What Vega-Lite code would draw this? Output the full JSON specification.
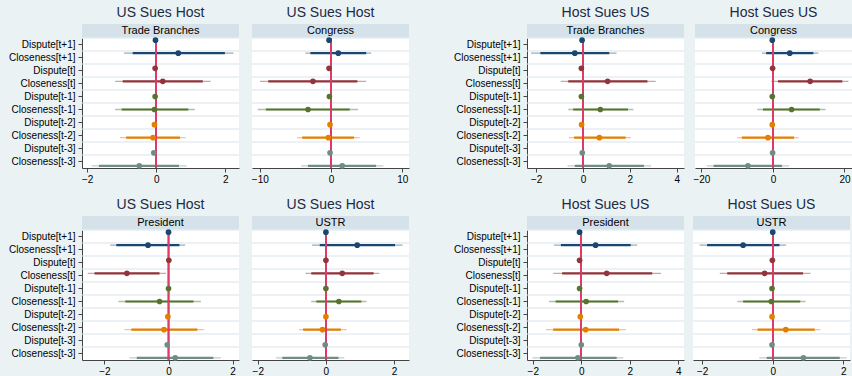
{
  "$schema": "https://vega.github.io/schema/vega-lite/v6.json",
  "background": "#eaf2f3",
  "padding": {"left": 8, "top": 6, "right": 0, "bottom": 0},
  "autosize": {"type": "pad"},
  "config": {
    "font": "Liberation Sans",
    "view": {"stroke": null},
    "axis": {"labelFont": "Liberation Sans", "labelFontSize": 10, "labelColor": "#000000", "tickColor": "#444444", "domainColor": "#444444", "tickSize": 4, "grid": false},
    "axisY": {"labelPadding": 3, "labelLimit": 200},
    "axisX": {"labelPadding": 2, "labelFlush": false, "labelOverlap": false},
    "title": {"font": "Liberation Sans", "fontSize": 14, "fontWeight": "normal", "color": "#1c2a44", "offset": 4},
    "text": {"font": "Liberation Sans", "fontSize": 11, "color": "#000000"}
  },
  "datasets": {
    "coef": [
      {"side": "US Sues Host", "branch": "Trade Branches", "term": "Dispute[t+1]", "lag": "t+1", "b": -0.02, "lo95": -0.05, "hi95": 0.01, "lo90": -0.04, "hi90": 0.0},
      {"side": "US Sues Host", "branch": "Trade Branches", "term": "Closeness[t+1]", "lag": "t+1", "b": 0.64, "lo95": -0.93, "hi95": 2.24, "lo90": -0.68, "hi90": 1.99},
      {"side": "US Sues Host", "branch": "Trade Branches", "term": "Dispute[t]", "lag": "t", "b": -0.03, "lo95": -0.06, "hi95": 0.0, "lo90": -0.05, "hi90": -0.01},
      {"side": "US Sues Host", "branch": "Trade Branches", "term": "Closeness[t]", "lag": "t", "b": 0.19, "lo95": -1.19, "hi95": 1.58, "lo90": -0.97, "hi90": 1.35},
      {"side": "US Sues Host", "branch": "Trade Branches", "term": "Dispute[t-1]", "lag": "t-1", "b": -0.03, "lo95": -0.06, "hi95": 0.0, "lo90": -0.05, "hi90": -0.01},
      {"side": "US Sues Host", "branch": "Trade Branches", "term": "Closeness[t-1]", "lag": "t-1", "b": -0.05, "lo95": -1.19, "hi95": 1.12, "lo90": -1.0, "hi90": 0.93},
      {"side": "US Sues Host", "branch": "Trade Branches", "term": "Dispute[t-2]", "lag": "t-2", "b": -0.05, "lo95": -0.08, "hi95": -0.02, "lo90": -0.07, "hi90": -0.03},
      {"side": "US Sues Host", "branch": "Trade Branches", "term": "Closeness[t-2]", "lag": "t-2", "b": -0.09, "lo95": -1.05, "hi95": 0.85, "lo90": -0.87, "hi90": 0.69},
      {"side": "US Sues Host", "branch": "Trade Branches", "term": "Dispute[t-3]", "lag": "t-3", "b": -0.07, "lo95": -0.1, "hi95": -0.04, "lo90": -0.09, "hi90": -0.05},
      {"side": "US Sues Host", "branch": "Trade Branches", "term": "Closeness[t-3]", "lag": "t-3", "b": -0.49, "lo95": -1.87, "hi95": 0.88, "lo90": -1.66, "hi90": 0.66},

      {"side": "US Sues Host", "branch": "Congress", "term": "Dispute[t+1]", "lag": "t+1", "b": -0.28, "lo95": -0.6, "hi95": 0.04, "lo90": -0.5, "hi90": -0.06},
      {"side": "US Sues Host", "branch": "Congress", "term": "Closeness[t+1]", "lag": "t+1", "b": 1.02, "lo95": -3.6, "hi95": 5.64, "lo90": -2.9, "hi90": 4.94},
      {"side": "US Sues Host", "branch": "Congress", "term": "Dispute[t]", "lag": "t", "b": -0.28, "lo95": -0.6, "hi95": 0.04, "lo90": -0.5, "hi90": -0.06},
      {"side": "US Sues Host", "branch": "Congress", "term": "Closeness[t]", "lag": "t", "b": -2.54, "lo95": -9.98, "hi95": 4.94, "lo90": -8.82, "hi90": 3.7},
      {"side": "US Sues Host", "branch": "Congress", "term": "Dispute[t-1]", "lag": "t-1", "b": -0.23, "lo95": -0.55, "hi95": 0.09, "lo90": -0.45, "hi90": -0.01},
      {"side": "US Sues Host", "branch": "Congress", "term": "Closeness[t-1]", "lag": "t-1", "b": -3.23, "lo95": -10.3, "hi95": 3.79, "lo90": -9.15, "hi90": 2.63},
      {"side": "US Sues Host", "branch": "Congress", "term": "Dispute[t-2]", "lag": "t-2", "b": -0.14, "lo95": -0.46, "hi95": 0.18, "lo90": -0.36, "hi90": 0.08},
      {"side": "US Sues Host", "branch": "Congress", "term": "Closeness[t-2]", "lag": "t-2", "b": -0.37, "lo95": -4.76, "hi95": 4.02, "lo90": -4.06, "hi90": 3.23},
      {"side": "US Sues Host", "branch": "Congress", "term": "Dispute[t-3]", "lag": "t-3", "b": -0.14, "lo95": -0.46, "hi95": 0.18, "lo90": -0.36, "hi90": 0.08},
      {"side": "US Sues Host", "branch": "Congress", "term": "Closeness[t-3]", "lag": "t-3", "b": 1.57, "lo95": -4.2, "hi95": 7.34, "lo90": -3.23, "hi90": 6.33},

      {"side": "Host Sues US", "branch": "Trade Branches", "term": "Dispute[t+1]", "lag": "t+1", "b": -0.04, "lo95": -0.08, "hi95": 0.0, "lo90": -0.07, "hi90": -0.01},
      {"side": "Host Sues US", "branch": "Trade Branches", "term": "Closeness[t+1]", "lag": "t+1", "b": -0.35, "lo95": -2.22, "hi95": 1.43, "lo90": -1.82, "hi90": 1.12},
      {"side": "Host Sues US", "branch": "Trade Branches", "term": "Dispute[t]", "lag": "t", "b": -0.07, "lo95": -0.11, "hi95": -0.03, "lo90": -0.1, "hi90": -0.04},
      {"side": "Host Sues US", "branch": "Trade Branches", "term": "Closeness[t]", "lag": "t", "b": 1.05, "lo95": -0.95, "hi95": 3.1, "lo90": -0.63, "hi90": 2.75},
      {"side": "Host Sues US", "branch": "Trade Branches", "term": "Dispute[t-1]", "lag": "t-1", "b": -0.07, "lo95": -0.11, "hi95": -0.03, "lo90": -0.1, "hi90": -0.04},
      {"side": "Host Sues US", "branch": "Trade Branches", "term": "Closeness[t-1]", "lag": "t-1", "b": 0.74, "lo95": -0.63, "hi95": 2.15, "lo90": -0.42, "hi90": 1.92},
      {"side": "Host Sues US", "branch": "Trade Branches", "term": "Dispute[t-2]", "lag": "t-2", "b": -0.06, "lo95": -0.1, "hi95": -0.02, "lo90": -0.09, "hi90": -0.03},
      {"side": "Host Sues US", "branch": "Trade Branches", "term": "Closeness[t-2]", "lag": "t-2", "b": 0.7, "lo95": -0.6, "hi95": 2.04, "lo90": -0.38, "hi90": 1.82},
      {"side": "Host Sues US", "branch": "Trade Branches", "term": "Dispute[t-3]", "lag": "t-3", "b": -0.03, "lo95": -0.07, "hi95": 0.01, "lo90": -0.06, "hi90": 0.0},
      {"side": "Host Sues US", "branch": "Trade Branches", "term": "Closeness[t-3]", "lag": "t-3", "b": 1.12, "lo95": -0.66, "hi95": 2.91, "lo90": -0.35, "hi90": 2.6},

      {"side": "Host Sues US", "branch": "Congress", "term": "Dispute[t+1]", "lag": "t+1", "b": -0.19, "lo95": -0.7, "hi95": 0.32, "lo90": -0.6, "hi90": 0.22},
      {"side": "Host Sues US", "branch": "Congress", "term": "Closeness[t+1]", "lag": "t+1", "b": 4.7, "lo95": -3.1, "hi95": 12.7, "lo90": -1.9, "hi90": 11.3},
      {"side": "Host Sues US", "branch": "Congress", "term": "Dispute[t]", "lag": "t", "b": -0.1, "lo95": -0.6, "hi95": 0.4, "lo90": -0.5, "hi90": 0.3},
      {"side": "Host Sues US", "branch": "Congress", "term": "Closeness[t]", "lag": "t", "b": 10.4, "lo95": -0.47, "hi95": 21.1, "lo90": 1.4, "hi90": 19.4},
      {"side": "Host Sues US", "branch": "Congress", "term": "Dispute[t-1]", "lag": "t-1", "b": -0.19, "lo95": -0.7, "hi95": 0.32, "lo90": -0.6, "hi90": 0.22},
      {"side": "Host Sues US", "branch": "Congress", "term": "Closeness[t-1]", "lag": "t-1", "b": 5.2, "lo95": -4.4, "hi95": 14.7, "lo90": -2.8, "hi90": 13.1},
      {"side": "Host Sues US", "branch": "Congress", "term": "Dispute[t-2]", "lag": "t-2", "b": -0.19, "lo95": -0.7, "hi95": 0.32, "lo90": -0.6, "hi90": 0.22},
      {"side": "Host Sues US", "branch": "Congress", "term": "Closeness[t-2]", "lag": "t-2", "b": -1.4, "lo95": -10.0, "hi95": 7.2, "lo90": -8.7, "hi90": 5.9},
      {"side": "Host Sues US", "branch": "Congress", "term": "Dispute[t-3]", "lag": "t-3", "b": -0.1, "lo95": -0.6, "hi95": 0.4, "lo90": -0.5, "hi90": 0.3},
      {"side": "Host Sues US", "branch": "Congress", "term": "Closeness[t-3]", "lag": "t-3", "b": -7.0, "lo95": -18.5, "hi95": 4.5, "lo90": -16.6, "hi90": 2.5},

      {"side": "US Sues Host", "branch": "President", "term": "Dispute[t+1]", "lag": "t+1", "b": 0.0, "lo95": -0.03, "hi95": 0.03, "lo90": -0.02, "hi90": 0.02},
      {"side": "US Sues Host", "branch": "President", "term": "Closeness[t+1]", "lag": "t+1", "b": -0.64, "lo95": -1.82, "hi95": 0.52, "lo90": -1.63, "hi90": 0.34},
      {"side": "US Sues Host", "branch": "President", "term": "Dispute[t]", "lag": "t", "b": 0.01, "lo95": -0.02, "hi95": 0.04, "lo90": -0.01, "hi90": 0.03},
      {"side": "US Sues Host", "branch": "President", "term": "Closeness[t]", "lag": "t", "b": -1.3, "lo95": -2.52, "hi95": -0.08, "lo90": -2.31, "hi90": -0.28},
      {"side": "US Sues Host", "branch": "President", "term": "Dispute[t-1]", "lag": "t-1", "b": 0.0, "lo95": -0.03, "hi95": 0.03, "lo90": -0.02, "hi90": 0.02},
      {"side": "US Sues Host", "branch": "President", "term": "Closeness[t-1]", "lag": "t-1", "b": -0.28, "lo95": -1.56, "hi95": 1.01, "lo90": -1.35, "hi90": 0.78},
      {"side": "US Sues Host", "branch": "President", "term": "Dispute[t-2]", "lag": "t-2", "b": -0.02, "lo95": -0.05, "hi95": 0.01, "lo90": -0.04, "hi90": 0.0},
      {"side": "US Sues Host", "branch": "President", "term": "Closeness[t-2]", "lag": "t-2", "b": -0.14, "lo95": -1.38, "hi95": 1.11, "lo90": -1.16, "hi90": 0.9},
      {"side": "US Sues Host", "branch": "President", "term": "Dispute[t-3]", "lag": "t-3", "b": -0.04, "lo95": -0.07, "hi95": -0.01, "lo90": -0.06, "hi90": -0.02},
      {"side": "US Sues Host", "branch": "President", "term": "Closeness[t-3]", "lag": "t-3", "b": 0.21, "lo95": -1.22, "hi95": 1.63, "lo90": -0.99, "hi90": 1.4},

      {"side": "US Sues Host", "branch": "USTR", "term": "Dispute[t+1]", "lag": "t+1", "b": 0.0, "lo95": -0.02, "hi95": 0.02, "lo90": -0.01, "hi90": 0.01},
      {"side": "US Sues Host", "branch": "USTR", "term": "Closeness[t+1]", "lag": "t+1", "b": 0.92, "lo95": -0.41, "hi95": 2.25, "lo90": -0.18, "hi90": 2.03},
      {"side": "US Sues Host", "branch": "USTR", "term": "Dispute[t]", "lag": "t", "b": 0.0, "lo95": -0.02, "hi95": 0.02, "lo90": -0.01, "hi90": 0.01},
      {"side": "US Sues Host", "branch": "USTR", "term": "Closeness[t]", "lag": "t", "b": 0.48, "lo95": -0.6, "hi95": 1.57, "lo90": -0.43, "hi90": 1.4},
      {"side": "US Sues Host", "branch": "USTR", "term": "Dispute[t-1]", "lag": "t-1", "b": 0.0, "lo95": -0.02, "hi95": 0.02, "lo90": -0.01, "hi90": 0.01},
      {"side": "US Sues Host", "branch": "USTR", "term": "Closeness[t-1]", "lag": "t-1", "b": 0.38, "lo95": -0.43, "hi95": 1.19, "lo90": -0.28, "hi90": 1.04},
      {"side": "US Sues Host", "branch": "USTR", "term": "Dispute[t-2]", "lag": "t-2", "b": 0.0, "lo95": -0.02, "hi95": 0.02, "lo90": -0.01, "hi90": 0.01},
      {"side": "US Sues Host", "branch": "USTR", "term": "Closeness[t-2]", "lag": "t-2", "b": -0.1, "lo95": -0.79, "hi95": 0.61, "lo90": -0.67, "hi90": 0.44},
      {"side": "US Sues Host", "branch": "USTR", "term": "Dispute[t-3]", "lag": "t-3", "b": -0.02, "lo95": -0.04, "hi95": 0.0, "lo90": -0.03, "hi90": -0.01},
      {"side": "US Sues Host", "branch": "USTR", "term": "Closeness[t-3]", "lag": "t-3", "b": -0.47, "lo95": -1.47, "hi95": 0.54, "lo90": -1.28, "hi90": 0.37},

      {"side": "Host Sues US", "branch": "President", "term": "Dispute[t+1]", "lag": "t+1", "b": -0.07, "lo95": -0.11, "hi95": -0.03, "lo90": -0.1, "hi90": -0.04},
      {"side": "Host Sues US", "branch": "President", "term": "Closeness[t+1]", "lag": "t+1", "b": 0.59, "lo95": -1.13, "hi95": 2.31, "lo90": -0.84, "hi90": 2.04},
      {"side": "Host Sues US", "branch": "President", "term": "Dispute[t]", "lag": "t", "b": -0.07, "lo95": -0.11, "hi95": -0.03, "lo90": -0.1, "hi90": -0.04},
      {"side": "Host Sues US", "branch": "President", "term": "Closeness[t]", "lag": "t", "b": 1.05, "lo95": -1.16, "hi95": 3.29, "lo90": -0.79, "hi90": 2.93},
      {"side": "Host Sues US", "branch": "President", "term": "Dispute[t-1]", "lag": "t-1", "b": -0.07, "lo95": -0.11, "hi95": -0.03, "lo90": -0.1, "hi90": -0.04},
      {"side": "Host Sues US", "branch": "President", "term": "Closeness[t-1]", "lag": "t-1", "b": 0.2, "lo95": -1.33, "hi95": 1.77, "lo90": -1.06, "hi90": 1.52},
      {"side": "Host Sues US", "branch": "President", "term": "Dispute[t-2]", "lag": "t-2", "b": -0.04, "lo95": -0.08, "hi95": 0.0, "lo90": -0.07, "hi90": -0.01},
      {"side": "Host Sues US", "branch": "President", "term": "Closeness[t-2]", "lag": "t-2", "b": 0.18, "lo95": -1.46, "hi95": 1.84, "lo90": -1.16, "hi90": 1.56},
      {"side": "Host Sues US", "branch": "President", "term": "Dispute[t-3]", "lag": "t-3", "b": 0.0, "lo95": -0.04, "hi95": 0.04, "lo90": -0.03, "hi90": 0.03},
      {"side": "Host Sues US", "branch": "President", "term": "Closeness[t-3]", "lag": "t-3", "b": -0.14, "lo95": -2.01, "hi95": 1.74, "lo90": -1.7, "hi90": 1.46},

      {"side": "Host Sues US", "branch": "USTR", "term": "Dispute[t+1]", "lag": "t+1", "b": 0.0, "lo95": -0.02, "hi95": 0.02, "lo90": -0.01, "hi90": 0.01},
      {"side": "Host Sues US", "branch": "USTR", "term": "Closeness[t+1]", "lag": "t+1", "b": -0.84, "lo95": -2.07, "hi95": 0.38, "lo90": -1.86, "hi90": 0.19},
      {"side": "Host Sues US", "branch": "USTR", "term": "Dispute[t]", "lag": "t", "b": -0.01, "lo95": -0.03, "hi95": 0.01, "lo90": -0.02, "hi90": 0.0},
      {"side": "Host Sues US", "branch": "USTR", "term": "Closeness[t]", "lag": "t", "b": -0.23, "lo95": -1.5, "hi95": 1.07, "lo90": -1.29, "hi90": 0.86},
      {"side": "Host Sues US", "branch": "USTR", "term": "Dispute[t-1]", "lag": "t-1", "b": -0.02, "lo95": -0.04, "hi95": 0.0, "lo90": -0.03, "hi90": -0.01},
      {"side": "Host Sues US", "branch": "USTR", "term": "Closeness[t-1]", "lag": "t-1", "b": -0.04, "lo95": -1.0, "hi95": 0.93, "lo90": -0.84, "hi90": 0.78},
      {"side": "Host Sues US", "branch": "USTR", "term": "Dispute[t-2]", "lag": "t-2", "b": -0.02, "lo95": -0.04, "hi95": 0.0, "lo90": -0.03, "hi90": -0.01},
      {"side": "Host Sues US", "branch": "USTR", "term": "Closeness[t-2]", "lag": "t-2", "b": 0.37, "lo95": -0.59, "hi95": 1.35, "lo90": -0.43, "hi90": 1.19},
      {"side": "Host Sues US", "branch": "USTR", "term": "Dispute[t-3]", "lag": "t-3", "b": -0.02, "lo95": -0.04, "hi95": 0.0, "lo90": -0.03, "hi90": -0.01},
      {"side": "Host Sues US", "branch": "USTR", "term": "Closeness[t-3]", "lag": "t-3", "b": 0.87, "lo95": -0.38, "hi95": 2.1, "lo90": -0.17, "hi90": 1.9}
    ]
  },
  "spacing": 14,
  "vconcat": [
    {
      "spacing": 43,
      "hconcat": [
        {
          "spacing": 11,
          "hconcat": [
            {
              "spacing": 0,
              "resolve": {"scale": {"yOffset": "independent"}},
              "vconcat": [
                {"width": 157, "height": 13, "view": {"fill": "#d6e2e9", "stroke": null}, "title": "US Sues Host", "data": {"values": [{"label": "Trade Branches"}]}, "mark": {"type": "text"}, "encoding": {"text": {"field": "label", "type": "nominal"}}},
                {
                  "width": 157, "height": 130, "view": {"fill": "#ffffff", "stroke": null},
                  "data": {"name": "coef"},
                  "transform": [{"filter": {"and": [{"field": "side", "equal": "US Sues Host"}, {"field": "branch", "equal": "Trade Branches"}]}}],
                  "layer": [
                    {"mark": {"type": "rule", "color": "#dae3e9", "strokeWidth": 1}, "encoding": {"y": {"field": "term", "type": "nominal", "bandPosition": 0, "sort": ["Dispute[t+1]", "Closeness[t+1]", "Dispute[t]", "Closeness[t]", "Dispute[t-1]", "Closeness[t-1]", "Dispute[t-2]", "Closeness[t-2]", "Dispute[t-3]", "Closeness[t-3]"], "scale": {"paddingInner": 0, "paddingOuter": 0}, "axis": {"title": null, "domain": true}}}},
                    {"mark": {"type": "rule", "strokeWidth": 1.3, "opacity": 0.45}, "encoding": {"y": {"field": "term", "type": "nominal", "title": null, "sort": ["Dispute[t+1]", "Closeness[t+1]", "Dispute[t]", "Closeness[t]", "Dispute[t-1]", "Closeness[t-1]", "Dispute[t-2]", "Closeness[t-2]", "Dispute[t-3]", "Closeness[t-3]"]}, "yOffset": {"field": "lag", "type": "nominal", "sort": ["t+1", "t", "t-1", "t-2", "t-3"], "scale": {"type": "point", "padding": 1}}, "x": {"field": "lo95", "type": "quantitative", "scale": {"domain": [-2.15, 2.4], "nice": false, "zero": false}, "axis": {"title": null, "values": [-2, -1, 0, 1, 2]}}, "x2": {"field": "hi95"}, "color": {"field": "lag", "type": "nominal", "scale": {"domain": ["t+1", "t", "t-1", "t-2", "t-3"], "range": ["#1a476f", "#90353b", "#55752f", "#e37e00", "#6e8e84"]}, "legend": null}}},
                    {"mark": {"type": "rule", "strokeWidth": 2.2}, "encoding": {"y": {"field": "term", "type": "nominal", "title": null, "sort": ["Dispute[t+1]", "Closeness[t+1]", "Dispute[t]", "Closeness[t]", "Dispute[t-1]", "Closeness[t-1]", "Dispute[t-2]", "Closeness[t-2]", "Dispute[t-3]", "Closeness[t-3]"]}, "yOffset": {"field": "lag", "type": "nominal", "sort": ["t+1", "t", "t-1", "t-2", "t-3"]}, "x": {"field": "lo90", "type": "quantitative", "title": null}, "x2": {"field": "hi90"}, "color": {"field": "lag", "type": "nominal", "legend": null}}},
                    {"mark": {"type": "rule", "color": "#de3b68", "strokeWidth": 1.2}, "encoding": {"x": {"datum": 0}}},
                    {"mark": {"type": "circle", "size": 32, "opacity": 1}, "encoding": {"y": {"field": "term", "type": "nominal", "title": null, "sort": ["Dispute[t+1]", "Closeness[t+1]", "Dispute[t]", "Closeness[t]", "Dispute[t-1]", "Closeness[t-1]", "Dispute[t-2]", "Closeness[t-2]", "Dispute[t-3]", "Closeness[t-3]"]}, "yOffset": {"field": "lag", "type": "nominal", "sort": ["t+1", "t", "t-1", "t-2", "t-3"]}, "x": {"field": "b", "type": "quantitative", "title": null}, "color": {"field": "lag", "type": "nominal", "legend": null}}}
                  ]
                }
              ]
            },
            {
              "spacing": 0,
              "resolve": {"scale": {"yOffset": "independent"}},
              "vconcat": [
                {"width": 157, "height": 13, "view": {"fill": "#d6e2e9", "stroke": null}, "title": "US Sues Host", "data": {"values": [{"label": "Congress"}]}, "mark": {"type": "text"}, "encoding": {"text": {"field": "label", "type": "nominal"}}},
                {
                  "width": 157, "height": 130, "view": {"fill": "#ffffff", "stroke": null},
                  "data": {"name": "coef"},
                  "transform": [{"filter": {"and": [{"field": "side", "equal": "US Sues Host"}, {"field": "branch", "equal": "Congress"}]}}],
                  "layer": [
                    {"mark": {"type": "rule", "color": "#dae3e9", "strokeWidth": 1}, "encoding": {"y": {"field": "term", "type": "nominal", "bandPosition": 0, "sort": ["Dispute[t+1]", "Closeness[t+1]", "Dispute[t]", "Closeness[t]", "Dispute[t-1]", "Closeness[t-1]", "Dispute[t-2]", "Closeness[t-2]", "Dispute[t-3]", "Closeness[t-3]"], "scale": {"paddingInner": 0, "paddingOuter": 0}, "axis": null}}},
                    {"mark": {"type": "rule", "strokeWidth": 1.3, "opacity": 0.45}, "encoding": {"y": {"field": "term", "type": "nominal", "title": null, "sort": ["Dispute[t+1]", "Closeness[t+1]", "Dispute[t]", "Closeness[t]", "Dispute[t-1]", "Closeness[t-1]", "Dispute[t-2]", "Closeness[t-2]", "Dispute[t-3]", "Closeness[t-3]"]}, "yOffset": {"field": "lag", "type": "nominal", "sort": ["t+1", "t", "t-1", "t-2", "t-3"], "scale": {"type": "point", "padding": 1}}, "x": {"field": "lo95", "type": "quantitative", "scale": {"domain": [-11.1, 10.95], "nice": false, "zero": false}, "axis": {"title": null, "values": [-10, -5, 0, 5, 10]}}, "x2": {"field": "hi95"}, "color": {"field": "lag", "type": "nominal", "scale": {"domain": ["t+1", "t", "t-1", "t-2", "t-3"], "range": ["#1a476f", "#90353b", "#55752f", "#e37e00", "#6e8e84"]}, "legend": null}}},
                    {"mark": {"type": "rule", "strokeWidth": 2.2}, "encoding": {"y": {"field": "term", "type": "nominal", "title": null, "sort": ["Dispute[t+1]", "Closeness[t+1]", "Dispute[t]", "Closeness[t]", "Dispute[t-1]", "Closeness[t-1]", "Dispute[t-2]", "Closeness[t-2]", "Dispute[t-3]", "Closeness[t-3]"]}, "yOffset": {"field": "lag", "type": "nominal", "sort": ["t+1", "t", "t-1", "t-2", "t-3"]}, "x": {"field": "lo90", "type": "quantitative", "title": null}, "x2": {"field": "hi90"}, "color": {"field": "lag", "type": "nominal", "legend": null}}},
                    {"mark": {"type": "rule", "color": "#de3b68", "strokeWidth": 1.2}, "encoding": {"x": {"datum": 0}}},
                    {"mark": {"type": "circle", "size": 32, "opacity": 1}, "encoding": {"y": {"field": "term", "type": "nominal", "title": null, "sort": ["Dispute[t+1]", "Closeness[t+1]", "Dispute[t]", "Closeness[t]", "Dispute[t-1]", "Closeness[t-1]", "Dispute[t-2]", "Closeness[t-2]", "Dispute[t-3]", "Closeness[t-3]"]}, "yOffset": {"field": "lag", "type": "nominal", "sort": ["t+1", "t", "t-1", "t-2", "t-3"]}, "x": {"field": "b", "type": "quantitative", "title": null}, "color": {"field": "lag", "type": "nominal", "legend": null}}}
                  ]
                }
              ]
            }
          ]
        },
        {
          "spacing": 7,
          "hconcat": [
            {
              "spacing": 0,
              "resolve": {"scale": {"yOffset": "independent"}},
              "vconcat": [
                {"width": 157, "height": 13, "view": {"fill": "#d6e2e9", "stroke": null}, "title": "Host Sues US", "data": {"values": [{"label": "Trade Branches"}]}, "mark": {"type": "text"}, "encoding": {"text": {"field": "label", "type": "nominal"}}},
                {
                  "width": 157, "height": 130, "view": {"fill": "#ffffff", "stroke": null},
                  "data": {"name": "coef"},
                  "transform": [{"filter": {"and": [{"field": "side", "equal": "Host Sues US"}, {"field": "branch", "equal": "Trade Branches"}]}}],
                  "layer": [
                    {"mark": {"type": "rule", "color": "#dae3e9", "strokeWidth": 1}, "encoding": {"y": {"field": "term", "type": "nominal", "bandPosition": 0, "sort": ["Dispute[t+1]", "Closeness[t+1]", "Dispute[t]", "Closeness[t]", "Dispute[t-1]", "Closeness[t-1]", "Dispute[t-2]", "Closeness[t-2]", "Dispute[t-3]", "Closeness[t-3]"], "scale": {"paddingInner": 0, "paddingOuter": 0}, "axis": {"title": null, "domain": true}}}},
                    {"mark": {"type": "rule", "strokeWidth": 1.3, "opacity": 0.45}, "encoding": {"y": {"field": "term", "type": "nominal", "title": null, "sort": ["Dispute[t+1]", "Closeness[t+1]", "Dispute[t]", "Closeness[t]", "Dispute[t-1]", "Closeness[t-1]", "Dispute[t-2]", "Closeness[t-2]", "Dispute[t-3]", "Closeness[t-3]"]}, "yOffset": {"field": "lag", "type": "nominal", "sort": ["t+1", "t", "t-1", "t-2", "t-3"], "scale": {"type": "point", "padding": 1}}, "x": {"field": "lo95", "type": "quantitative", "scale": {"domain": [-2.39, 4.31], "nice": false, "zero": false}, "axis": {"title": null, "values": [-2, 0, 2, 4]}}, "x2": {"field": "hi95"}, "color": {"field": "lag", "type": "nominal", "scale": {"domain": ["t+1", "t", "t-1", "t-2", "t-3"], "range": ["#1a476f", "#90353b", "#55752f", "#e37e00", "#6e8e84"]}, "legend": null}}},
                    {"mark": {"type": "rule", "strokeWidth": 2.2}, "encoding": {"y": {"field": "term", "type": "nominal", "title": null, "sort": ["Dispute[t+1]", "Closeness[t+1]", "Dispute[t]", "Closeness[t]", "Dispute[t-1]", "Closeness[t-1]", "Dispute[t-2]", "Closeness[t-2]", "Dispute[t-3]", "Closeness[t-3]"]}, "yOffset": {"field": "lag", "type": "nominal", "sort": ["t+1", "t", "t-1", "t-2", "t-3"]}, "x": {"field": "lo90", "type": "quantitative", "title": null}, "x2": {"field": "hi90"}, "color": {"field": "lag", "type": "nominal", "legend": null}}},
                    {"mark": {"type": "rule", "color": "#de3b68", "strokeWidth": 1.2}, "encoding": {"x": {"datum": 0}}},
                    {"mark": {"type": "circle", "size": 32, "opacity": 1}, "encoding": {"y": {"field": "term", "type": "nominal", "title": null, "sort": ["Dispute[t+1]", "Closeness[t+1]", "Dispute[t]", "Closeness[t]", "Dispute[t-1]", "Closeness[t-1]", "Dispute[t-2]", "Closeness[t-2]", "Dispute[t-3]", "Closeness[t-3]"]}, "yOffset": {"field": "lag", "type": "nominal", "sort": ["t+1", "t", "t-1", "t-2", "t-3"]}, "x": {"field": "b", "type": "quantitative", "title": null}, "color": {"field": "lag", "type": "nominal", "legend": null}}}
                  ]
                }
              ]
            },
            {
              "spacing": 0,
              "resolve": {"scale": {"yOffset": "independent"}},
              "vconcat": [
                {"width": 157, "height": 13, "view": {"fill": "#d6e2e9", "stroke": null}, "title": "Host Sues US", "data": {"values": [{"label": "Congress"}]}, "mark": {"type": "text"}, "encoding": {"text": {"field": "label", "type": "nominal"}}},
                {
                  "width": 157, "height": 130, "view": {"fill": "#ffffff", "stroke": null},
                  "data": {"name": "coef"},
                  "transform": [{"filter": {"and": [{"field": "side", "equal": "Host Sues US"}, {"field": "branch", "equal": "Congress"}]}}],
                  "layer": [
                    {"mark": {"type": "rule", "color": "#dae3e9", "strokeWidth": 1}, "encoding": {"y": {"field": "term", "type": "nominal", "bandPosition": 0, "sort": ["Dispute[t+1]", "Closeness[t+1]", "Dispute[t]", "Closeness[t]", "Dispute[t-1]", "Closeness[t-1]", "Dispute[t-2]", "Closeness[t-2]", "Dispute[t-3]", "Closeness[t-3]"], "scale": {"paddingInner": 0, "paddingOuter": 0}, "axis": null}}},
                    {"mark": {"type": "rule", "strokeWidth": 1.3, "opacity": 0.45}, "encoding": {"y": {"field": "term", "type": "nominal", "title": null, "sort": ["Dispute[t+1]", "Closeness[t+1]", "Dispute[t]", "Closeness[t]", "Dispute[t-1]", "Closeness[t-1]", "Dispute[t-2]", "Closeness[t-2]", "Dispute[t-3]", "Closeness[t-3]"]}, "yOffset": {"field": "lag", "type": "nominal", "sort": ["t+1", "t", "t-1", "t-2", "t-3"], "scale": {"type": "point", "padding": 1}}, "x": {"field": "lo95", "type": "quantitative", "scale": {"domain": [-21.8, 22.1], "nice": false, "zero": false}, "axis": {"title": null, "values": [-20, -10, 0, 10, 20]}}, "x2": {"field": "hi95"}, "color": {"field": "lag", "type": "nominal", "scale": {"domain": ["t+1", "t", "t-1", "t-2", "t-3"], "range": ["#1a476f", "#90353b", "#55752f", "#e37e00", "#6e8e84"]}, "legend": null}}},
                    {"mark": {"type": "rule", "strokeWidth": 2.2}, "encoding": {"y": {"field": "term", "type": "nominal", "title": null, "sort": ["Dispute[t+1]", "Closeness[t+1]", "Dispute[t]", "Closeness[t]", "Dispute[t-1]", "Closeness[t-1]", "Dispute[t-2]", "Closeness[t-2]", "Dispute[t-3]", "Closeness[t-3]"]}, "yOffset": {"field": "lag", "type": "nominal", "sort": ["t+1", "t", "t-1", "t-2", "t-3"]}, "x": {"field": "lo90", "type": "quantitative", "title": null}, "x2": {"field": "hi90"}, "color": {"field": "lag", "type": "nominal", "legend": null}}},
                    {"mark": {"type": "rule", "color": "#de3b68", "strokeWidth": 1.2}, "encoding": {"x": {"datum": 0}}},
                    {"mark": {"type": "circle", "size": 32, "opacity": 1}, "encoding": {"y": {"field": "term", "type": "nominal", "title": null, "sort": ["Dispute[t+1]", "Closeness[t+1]", "Dispute[t]", "Closeness[t]", "Dispute[t-1]", "Closeness[t-1]", "Dispute[t-2]", "Closeness[t-2]", "Dispute[t-3]", "Closeness[t-3]"]}, "yOffset": {"field": "lag", "type": "nominal", "sort": ["t+1", "t", "t-1", "t-2", "t-3"]}, "x": {"field": "b", "type": "quantitative", "title": null}, "color": {"field": "lag", "type": "nominal", "legend": null}}}
                  ]
                }
              ]
            }
          ]
        }
      ]
    },
    {
      "spacing": 43,
      "hconcat": [
        {
          "spacing": 11,
          "hconcat": [
            {
              "spacing": 0,
              "resolve": {"scale": {"yOffset": "independent"}},
              "vconcat": [
                {"width": 157, "height": 13, "view": {"fill": "#d6e2e9", "stroke": null}, "title": "US Sues Host", "data": {"values": [{"label": "President"}]}, "mark": {"type": "text"}, "encoding": {"text": {"field": "label", "type": "nominal"}}},
                {
                  "width": 157, "height": 130, "view": {"fill": "#ffffff", "stroke": null},
                  "data": {"name": "coef"},
                  "transform": [{"filter": {"and": [{"field": "side", "equal": "US Sues Host"}, {"field": "branch", "equal": "President"}]}}],
                  "layer": [
                    {"mark": {"type": "rule", "color": "#dae3e9", "strokeWidth": 1}, "encoding": {"y": {"field": "term", "type": "nominal", "bandPosition": 0, "sort": ["Dispute[t+1]", "Closeness[t+1]", "Dispute[t]", "Closeness[t]", "Dispute[t-1]", "Closeness[t-1]", "Dispute[t-2]", "Closeness[t-2]", "Dispute[t-3]", "Closeness[t-3]"], "scale": {"paddingInner": 0, "paddingOuter": 0}, "axis": {"title": null, "domain": true}}}},
                    {"mark": {"type": "rule", "strokeWidth": 1.3, "opacity": 0.45}, "encoding": {"y": {"field": "term", "type": "nominal", "title": null, "sort": ["Dispute[t+1]", "Closeness[t+1]", "Dispute[t]", "Closeness[t]", "Dispute[t-1]", "Closeness[t-1]", "Dispute[t-2]", "Closeness[t-2]", "Dispute[t-3]", "Closeness[t-3]"]}, "yOffset": {"field": "lag", "type": "nominal", "sort": ["t+1", "t", "t-1", "t-2", "t-3"], "scale": {"type": "point", "padding": 1}}, "x": {"field": "lo95", "type": "quantitative", "scale": {"domain": [-2.7, 2.2], "nice": false, "zero": false}, "axis": {"title": null, "values": [-2, 0, 2]}}, "x2": {"field": "hi95"}, "color": {"field": "lag", "type": "nominal", "scale": {"domain": ["t+1", "t", "t-1", "t-2", "t-3"], "range": ["#1a476f", "#90353b", "#55752f", "#e37e00", "#6e8e84"]}, "legend": null}}},
                    {"mark": {"type": "rule", "strokeWidth": 2.2}, "encoding": {"y": {"field": "term", "type": "nominal", "title": null, "sort": ["Dispute[t+1]", "Closeness[t+1]", "Dispute[t]", "Closeness[t]", "Dispute[t-1]", "Closeness[t-1]", "Dispute[t-2]", "Closeness[t-2]", "Dispute[t-3]", "Closeness[t-3]"]}, "yOffset": {"field": "lag", "type": "nominal", "sort": ["t+1", "t", "t-1", "t-2", "t-3"]}, "x": {"field": "lo90", "type": "quantitative", "title": null}, "x2": {"field": "hi90"}, "color": {"field": "lag", "type": "nominal", "legend": null}}},
                    {"mark": {"type": "rule", "color": "#de3b68", "strokeWidth": 1.2}, "encoding": {"x": {"datum": 0}}},
                    {"mark": {"type": "circle", "size": 32, "opacity": 1}, "encoding": {"y": {"field": "term", "type": "nominal", "title": null, "sort": ["Dispute[t+1]", "Closeness[t+1]", "Dispute[t]", "Closeness[t]", "Dispute[t-1]", "Closeness[t-1]", "Dispute[t-2]", "Closeness[t-2]", "Dispute[t-3]", "Closeness[t-3]"]}, "yOffset": {"field": "lag", "type": "nominal", "sort": ["t+1", "t", "t-1", "t-2", "t-3"]}, "x": {"field": "b", "type": "quantitative", "title": null}, "color": {"field": "lag", "type": "nominal", "legend": null}}}
                  ]
                }
              ]
            },
            {
              "spacing": 0,
              "resolve": {"scale": {"yOffset": "independent"}},
              "vconcat": [
                {"width": 157, "height": 13, "view": {"fill": "#d6e2e9", "stroke": null}, "title": "US Sues Host", "data": {"values": [{"label": "USTR"}]}, "mark": {"type": "text"}, "encoding": {"text": {"field": "label", "type": "nominal"}}},
                {
                  "width": 157, "height": 130, "view": {"fill": "#ffffff", "stroke": null},
                  "data": {"name": "coef"},
                  "transform": [{"filter": {"and": [{"field": "side", "equal": "US Sues Host"}, {"field": "branch", "equal": "USTR"}]}}],
                  "layer": [
                    {"mark": {"type": "rule", "color": "#dae3e9", "strokeWidth": 1}, "encoding": {"y": {"field": "term", "type": "nominal", "bandPosition": 0, "sort": ["Dispute[t+1]", "Closeness[t+1]", "Dispute[t]", "Closeness[t]", "Dispute[t-1]", "Closeness[t-1]", "Dispute[t-2]", "Closeness[t-2]", "Dispute[t-3]", "Closeness[t-3]"], "scale": {"paddingInner": 0, "paddingOuter": 0}, "axis": null}}},
                    {"mark": {"type": "rule", "strokeWidth": 1.3, "opacity": 0.45}, "encoding": {"y": {"field": "term", "type": "nominal", "title": null, "sort": ["Dispute[t+1]", "Closeness[t+1]", "Dispute[t]", "Closeness[t]", "Dispute[t-1]", "Closeness[t-1]", "Dispute[t-2]", "Closeness[t-2]", "Dispute[t-3]", "Closeness[t-3]"]}, "yOffset": {"field": "lag", "type": "nominal", "sort": ["t+1", "t", "t-1", "t-2", "t-3"], "scale": {"type": "point", "padding": 1}}, "x": {"field": "lo95", "type": "quantitative", "scale": {"domain": [-2.17, 2.44], "nice": false, "zero": false}, "axis": {"title": null, "values": [-2, -1, 0, 1, 2]}}, "x2": {"field": "hi95"}, "color": {"field": "lag", "type": "nominal", "scale": {"domain": ["t+1", "t", "t-1", "t-2", "t-3"], "range": ["#1a476f", "#90353b", "#55752f", "#e37e00", "#6e8e84"]}, "legend": null}}},
                    {"mark": {"type": "rule", "strokeWidth": 2.2}, "encoding": {"y": {"field": "term", "type": "nominal", "title": null, "sort": ["Dispute[t+1]", "Closeness[t+1]", "Dispute[t]", "Closeness[t]", "Dispute[t-1]", "Closeness[t-1]", "Dispute[t-2]", "Closeness[t-2]", "Dispute[t-3]", "Closeness[t-3]"]}, "yOffset": {"field": "lag", "type": "nominal", "sort": ["t+1", "t", "t-1", "t-2", "t-3"]}, "x": {"field": "lo90", "type": "quantitative", "title": null}, "x2": {"field": "hi90"}, "color": {"field": "lag", "type": "nominal", "legend": null}}},
                    {"mark": {"type": "rule", "color": "#de3b68", "strokeWidth": 1.2}, "encoding": {"x": {"datum": 0}}},
                    {"mark": {"type": "circle", "size": 32, "opacity": 1}, "encoding": {"y": {"field": "term", "type": "nominal", "title": null, "sort": ["Dispute[t+1]", "Closeness[t+1]", "Dispute[t]", "Closeness[t]", "Dispute[t-1]", "Closeness[t-1]", "Dispute[t-2]", "Closeness[t-2]", "Dispute[t-3]", "Closeness[t-3]"]}, "yOffset": {"field": "lag", "type": "nominal", "sort": ["t+1", "t", "t-1", "t-2", "t-3"]}, "x": {"field": "b", "type": "quantitative", "title": null}, "color": {"field": "lag", "type": "nominal", "legend": null}}}
                  ]
                }
              ]
            }
          ]
        },
        {
          "spacing": 7,
          "hconcat": [
            {
              "spacing": 0,
              "resolve": {"scale": {"yOffset": "independent"}},
              "vconcat": [
                {"width": 157, "height": 13, "view": {"fill": "#d6e2e9", "stroke": null}, "title": "Host Sues US", "data": {"values": [{"label": "President"}]}, "mark": {"type": "text"}, "encoding": {"text": {"field": "label", "type": "nominal"}}},
                {
                  "width": 157, "height": 130, "view": {"fill": "#ffffff", "stroke": null},
                  "data": {"name": "coef"},
                  "transform": [{"filter": {"and": [{"field": "side", "equal": "Host Sues US"}, {"field": "branch", "equal": "President"}]}}],
                  "layer": [
                    {"mark": {"type": "rule", "color": "#dae3e9", "strokeWidth": 1}, "encoding": {"y": {"field": "term", "type": "nominal", "bandPosition": 0, "sort": ["Dispute[t+1]", "Closeness[t+1]", "Dispute[t]", "Closeness[t]", "Dispute[t-1]", "Closeness[t-1]", "Dispute[t-2]", "Closeness[t-2]", "Dispute[t-3]", "Closeness[t-3]"], "scale": {"paddingInner": 0, "paddingOuter": 0}, "axis": {"title": null, "domain": true}}}},
                    {"mark": {"type": "rule", "strokeWidth": 1.3, "opacity": 0.45}, "encoding": {"y": {"field": "term", "type": "nominal", "title": null, "sort": ["Dispute[t+1]", "Closeness[t+1]", "Dispute[t]", "Closeness[t]", "Dispute[t-1]", "Closeness[t-1]", "Dispute[t-2]", "Closeness[t-2]", "Dispute[t-3]", "Closeness[t-3]"]}, "yOffset": {"field": "lag", "type": "nominal", "sort": ["t+1", "t", "t-1", "t-2", "t-3"], "scale": {"type": "point", "padding": 1}}, "x": {"field": "lo95", "type": "quantitative", "scale": {"domain": [-2.24, 4.24], "nice": false, "zero": false}, "axis": {"title": null, "values": [-2, 0, 2, 4]}}, "x2": {"field": "hi95"}, "color": {"field": "lag", "type": "nominal", "scale": {"domain": ["t+1", "t", "t-1", "t-2", "t-3"], "range": ["#1a476f", "#90353b", "#55752f", "#e37e00", "#6e8e84"]}, "legend": null}}},
                    {"mark": {"type": "rule", "strokeWidth": 2.2}, "encoding": {"y": {"field": "term", "type": "nominal", "title": null, "sort": ["Dispute[t+1]", "Closeness[t+1]", "Dispute[t]", "Closeness[t]", "Dispute[t-1]", "Closeness[t-1]", "Dispute[t-2]", "Closeness[t-2]", "Dispute[t-3]", "Closeness[t-3]"]}, "yOffset": {"field": "lag", "type": "nominal", "sort": ["t+1", "t", "t-1", "t-2", "t-3"]}, "x": {"field": "lo90", "type": "quantitative", "title": null}, "x2": {"field": "hi90"}, "color": {"field": "lag", "type": "nominal", "legend": null}}},
                    {"mark": {"type": "rule", "color": "#de3b68", "strokeWidth": 1.2}, "encoding": {"x": {"datum": 0}}},
                    {"mark": {"type": "circle", "size": 32, "opacity": 1}, "encoding": {"y": {"field": "term", "type": "nominal", "title": null, "sort": ["Dispute[t+1]", "Closeness[t+1]", "Dispute[t]", "Closeness[t]", "Dispute[t-1]", "Closeness[t-1]", "Dispute[t-2]", "Closeness[t-2]", "Dispute[t-3]", "Closeness[t-3]"]}, "yOffset": {"field": "lag", "type": "nominal", "sort": ["t+1", "t", "t-1", "t-2", "t-3"]}, "x": {"field": "b", "type": "quantitative", "title": null}, "color": {"field": "lag", "type": "nominal", "legend": null}}}
                  ]
                }
              ]
            },
            {
              "spacing": 0,
              "resolve": {"scale": {"yOffset": "independent"}},
              "vconcat": [
                {"width": 157, "height": 13, "view": {"fill": "#d6e2e9", "stroke": null}, "title": "Host Sues US", "data": {"values": [{"label": "USTR"}]}, "mark": {"type": "text"}, "encoding": {"text": {"field": "label", "type": "nominal"}}},
                {
                  "width": 157, "height": 130, "view": {"fill": "#ffffff", "stroke": null},
                  "data": {"name": "coef"},
                  "transform": [{"filter": {"and": [{"field": "side", "equal": "Host Sues US"}, {"field": "branch", "equal": "USTR"}]}}],
                  "layer": [
                    {"mark": {"type": "rule", "color": "#dae3e9", "strokeWidth": 1}, "encoding": {"y": {"field": "term", "type": "nominal", "bandPosition": 0, "sort": ["Dispute[t+1]", "Closeness[t+1]", "Dispute[t]", "Closeness[t]", "Dispute[t-1]", "Closeness[t-1]", "Dispute[t-2]", "Closeness[t-2]", "Dispute[t-3]", "Closeness[t-3]"], "scale": {"paddingInner": 0, "paddingOuter": 0}, "axis": null}}},
                    {"mark": {"type": "rule", "strokeWidth": 1.3, "opacity": 0.45}, "encoding": {"y": {"field": "term", "type": "nominal", "title": null, "sort": ["Dispute[t+1]", "Closeness[t+1]", "Dispute[t]", "Closeness[t]", "Dispute[t-1]", "Closeness[t-1]", "Dispute[t-2]", "Closeness[t-2]", "Dispute[t-3]", "Closeness[t-3]"]}, "yOffset": {"field": "lag", "type": "nominal", "sort": ["t+1", "t", "t-1", "t-2", "t-3"], "scale": {"type": "point", "padding": 1}}, "x": {"field": "lo95", "type": "quantitative", "scale": {"domain": [-2.26, 2.19], "nice": false, "zero": false}, "axis": {"title": null, "values": [-2, -1, 0, 1, 2]}}, "x2": {"field": "hi95"}, "color": {"field": "lag", "type": "nominal", "scale": {"domain": ["t+1", "t", "t-1", "t-2", "t-3"], "range": ["#1a476f", "#90353b", "#55752f", "#e37e00", "#6e8e84"]}, "legend": null}}},
                    {"mark": {"type": "rule", "strokeWidth": 2.2}, "encoding": {"y": {"field": "term", "type": "nominal", "title": null, "sort": ["Dispute[t+1]", "Closeness[t+1]", "Dispute[t]", "Closeness[t]", "Dispute[t-1]", "Closeness[t-1]", "Dispute[t-2]", "Closeness[t-2]", "Dispute[t-3]", "Closeness[t-3]"]}, "yOffset": {"field": "lag", "type": "nominal", "sort": ["t+1", "t", "t-1", "t-2", "t-3"]}, "x": {"field": "lo90", "type": "quantitative", "title": null}, "x2": {"field": "hi90"}, "color": {"field": "lag", "type": "nominal", "legend": null}}},
                    {"mark": {"type": "rule", "color": "#de3b68", "strokeWidth": 1.2}, "encoding": {"x": {"datum": 0}}},
                    {"mark": {"type": "circle", "size": 32, "opacity": 1}, "encoding": {"y": {"field": "term", "type": "nominal", "title": null, "sort": ["Dispute[t+1]", "Closeness[t+1]", "Dispute[t]", "Closeness[t]", "Dispute[t-1]", "Closeness[t-1]", "Dispute[t-2]", "Closeness[t-2]", "Dispute[t-3]", "Closeness[t-3]"]}, "yOffset": {"field": "lag", "type": "nominal", "sort": ["t+1", "t", "t-1", "t-2", "t-3"]}, "x": {"field": "b", "type": "quantitative", "title": null}, "color": {"field": "lag", "type": "nominal", "legend": null}}}
                  ]
                }
              ]
            }
          ]
        }
      ]
    }
  ]
}
